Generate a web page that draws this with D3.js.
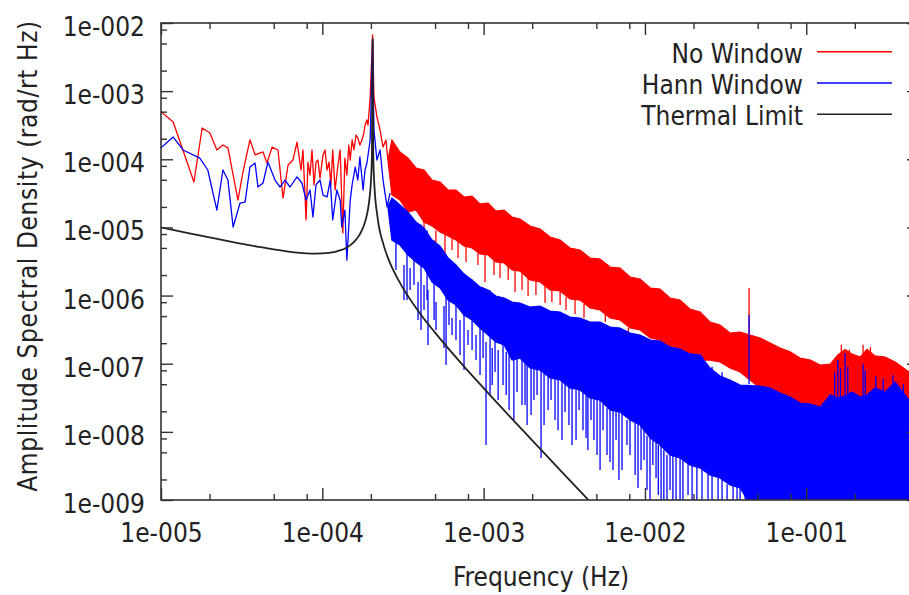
<!DOCTYPE html>
<html><head><meta charset="utf-8">
<script src="https://cdn.jsdelivr.net/npm/d3@7"></script>
<style>
body{margin:0;background:#fff}
svg text{font-family:"DejaVu Sans Condensed","DejaVu Sans",sans-serif;font-stretch:condensed;font-size:26px;fill:#222}
</style></head><body>
<svg id="chart" width="909" height="595"></svg>
<script>
// ---------- axes / labels ----------
const xTickValues = [1e-5, 1e-4, 1e-3, 1e-2, 1e-1];
const xTickLabels = ["1e-005", "1e-004", "1e-003", "1e-002", "1e-001"];
const yTickValues = [1e-9, 1e-8, 1e-7, 1e-6, 1e-5, 1e-4, 1e-3, 1e-2];
const yTickLabels = ["1e-009", "1e-008", "1e-007", "1e-006", "1e-005", "1e-004", "1e-003", "1e-002"];
const minorFactors = [2, 5, 8];
const xTitle = "Frequency (Hz)";
const yTitle = "Amplitude Spectral Density (rad/rt Hz)";
const seriesNames = ["No Window", "Hann Window", "Thermal Limit"];
const seriesColors = ["#ff0000", "#0000ff", "#222222"];

// ---------- No Window (red), low-frequency resolved points ----------
const redLowF = [1.0e-5,1.19e-5,1.6e-5,1.8e-5,2.01e-5,2.22e-5,2.42e-5,2.6e-5,3.0e-5,3.22e-5,3.56e-5,3.83e-5,4.29e-5,4.54e-5,4.88e-5,5.31e-5,5.71e-5,6.13e-5,6.58e-5,6.97e-5,7.38e-5,7.59e-5,7.93e-5,8.15e-5,8.39e-5,8.63e-5,8.89e-5,9.14e-5,9.4e-5,9.68e-5,1.01e-4,1.04e-4,1.07e-4,1.10e-4,1.13e-4,1.16e-4,1.2e-4,1.25e-4,1.29e-4,1.34e-4,1.38e-4,1.42e-4,1.46e-4,1.49e-4,1.53e-4,1.57e-4,1.62e-4,1.66e-4,1.71e-4,1.76e-4,1.81e-4,1.84e-4,1.89e-4,1.92e-4,1.98e-4,2.05e-4,2.09e-4,2.18e-4,2.28e-4,2.38e-4,2.48e-4,2.55e-4];
const redLowV = [5.0e-4,3.52e-4,4.64e-5,2.88e-4,2.43e-4,1.37e-4,1.62e-4,1.47e-4,2.52e-5,6.5e-5,1.92e-4,1.16e-4,1.28e-4,8.8e-5,1.51e-4,1.37e-4,2.7e-5,8.24e-5,9.76e-5,1.79e-4,6.96e-5,1.37e-4,1.29e-5,9.1e-5,5.88e-5,1.37e-4,4.2e-5,9.1e-5,9.76e-5,5.3e-5,1.16e-4,1.37e-4,6.96e-5,9.1e-5,4.2e-5,1.37e-4,3.54e-5,8.24e-5,1.37e-4,8.3e-6,1.04e-4,5.88e-5,1.62e-4,9.76e-5,1.92e-4,1.37e-4,2.27e-4,2.05e-4,1.62e-4,1.92e-4,2.43e-4,3.18e-4,3.77e-4,3.18e-4,8.2e-4,6.7e-3,8.2e-4,4.2e-4,2.69e-4,1.51e-4,1.92e-4,9.76e-5];

// ---------- Hann Window (blue), low-frequency resolved points ----------
const blueLowF = [1.0e-5,1.19e-5,1.37e-5,1.74e-5,1.95e-5,2.22e-5,2.42e-5,2.6e-5,2.8e-5,3.09e-5,3.32e-5,3.56e-5,3.83e-5,3.99e-5,4.29e-5,4.6e-5,5.09e-5,5.47e-5,5.87e-5,6.31e-5,6.97e-5,7.48e-5,7.93e-5,8.39e-5,8.75e-5,9.14e-5,9.68e-5,1.01e-4,1.07e-4,1.12e-4,1.16e-4,1.23e-4,1.29e-4,1.32e-4,1.38e-4,1.42e-4,1.49e-4,1.53e-4,1.6e-4,1.66e-4,1.71e-4,1.79e-4,1.84e-4,1.89e-4,1.98e-4,2.05e-4,2.09e-4,2.18e-4,2.28e-4,2.38e-4,2.52e-4,2.63e-4];
const blueLowV = [1.47e-4,2.12e-4,1.37e-4,1.04e-4,6.96e-5,1.8e-5,6.96e-5,4.96e-5,1.01e-5,2.28e-5,2.35e-5,7.7e-5,8.8e-5,3.92e-5,4.49e-5,9.1e-5,4.96e-5,3.92e-5,4.96e-5,3.92e-5,5.5e-5,4.49e-5,2.52e-5,3.54e-5,1.42e-5,4.2e-5,4.96e-5,2.98e-5,2.8e-5,4.96e-5,1.29e-5,3.54e-5,2.52e-5,1.01e-5,1.8e-5,3.3e-6,2.52e-5,4.2e-5,7.7e-5,4.96e-5,1.08e-4,3.54e-5,6.96e-5,8.8e-5,1.92e-4,5.6e-3,2.69e-4,9.76e-5,1.37e-4,4.96e-5,2.0e-5,3.2e-5];

// ---------- dense high-frequency part: band edges ----------
const bandF = [2.55e-4,2.70e-4,3.03e-4,3.40e-4,3.81e-4,4.27e-4,4.79e-4,5.37e-4,6.02e-4,6.74e-4,7.56e-4,8.47e-4,9.5e-4,1.065e-3,1.19e-3,1.34e-3,1.50e-3,1.68e-3,1.94e-3,2.24e-3,2.58e-3,2.98e-3,3.43e-3,3.96e-3,4.57e-3,5.27e-3,6.08e-3,7.01e-3,8.09e-3,9.33e-3,1.08e-2,1.24e-2,1.43e-2,1.65e-2,1.90e-2,2.20e-2,2.53e-2,2.92e-2,3.37e-2,3.89e-2,5.17e-2,5.97e-2,6.89e-2,7.94e-2,9.16e-2,0.106,0.122,0.141,0.157,0.174,0.192,0.216,0.238,0.267,0.308,0.356,0.434,0.5];
const redHi = [9.76e-5,1.92e-4,1.28e-4,1.04e-4,7.45e-5,6.96e-5,4.96e-5,4.64e-5,3.54e-5,3.54e-5,2.79e-5,2.89e-5,2.21e-5,2.28e-5,1.74e-5,1.80e-5,1.42e-5,1.33e-5,1.05e-5,9.5e-6,7.23e-6,6.53e-6,4.99e-6,4.67e-6,3.56e-6,3.44e-6,2.62e-6,2.54e-6,1.87e-6,1.75e-6,1.29e-6,1.25e-6,9.2e-7,8.6e-7,6.35e-7,5.74e-7,4.09e-7,3.70e-7,2.82e-7,2.92e-7,2.38e-7,2.01e-7,1.70e-7,1.49e-7,1.21e-7,1.13e-7,9.57e-8,9.9e-8,1.34e-7,1.62e-7,1.39e-7,1.25e-7,1.62e-7,1.30e-7,1.25e-7,1.06e-7,7.55e-8,8.07e-8];
const redLo = [9.76e-5,2.99e-5,2.52e-5,1.68e-5,1.80e-5,1.20e-5,1.05e-5,8.57e-6,7.48e-6,6.53e-6,5.33e-6,4.99e-6,4.07e-6,3.94e-6,3.11e-6,3.01e-6,2.37e-6,2.29e-6,1.69e-6,1.58e-6,1.21e-6,1.17e-6,8.9e-7,8.6e-7,6.56e-7,6.14e-7,4.69e-7,4.38e-7,3.34e-7,3.13e-7,2.38e-7,2.23e-7,1.70e-7,1.59e-7,1.30e-7,1.13e-7,1.13e-7,1.06e-7,8.65e-8,7.55e-8,4.40e-8,3.84e-8,3.36e-8,2.93e-8,2.56e-8,2.48e-8,2.24e-8,2.56e-8,3.14e-8,2.93e-8,3.36e-8,2.93e-8,3.14e-8,2.74e-8,2.93e-8,2.74e-8,2.93e-8,2.93e-8];
const blueHi = [2.0e-5,2.70e-5,2.13e-5,1.68e-5,1.20e-5,9.8e-6,6.53e-6,5.33e-6,3.56e-6,2.81e-6,2.07e-6,1.69e-6,1.34e-6,1.21e-6,9.86e-7,9.2e-7,8.05e-7,7.78e-7,6.79e-7,7.03e-7,5.93e-7,5.74e-7,4.84e-7,4.69e-7,4.09e-7,4.09e-7,3.46e-7,3.34e-7,2.82e-7,2.64e-7,2.23e-7,2.15e-7,1.76e-7,1.64e-7,1.39e-7,1.34e-7,8.65e-8,6.59e-8,5.77e-8,4.86e-8,4.71e-8,4.40e-8,3.72e-8,3.24e-8,2.65e-8,2.56e-8,2.31e-8,3.47e-8,3.14e-8,3.36e-8,3.84e-8,3.24e-8,3.47e-8,4.40e-8,3.84e-8,5.38e-8,2.93e-8,3.14e-8];
const blueLo = [2.0e-5,6.53e-6,5.52e-6,3.94e-6,3.11e-6,2.54e-6,1.58e-6,1.29e-6,8.6e-7,7.27e-7,5.19e-7,4.38e-7,3.34e-7,2.64e-7,2.08e-7,1.88e-7,1.13e-7,1.21e-7,8.65e-8,8.07e-8,6.17e-8,5.77e-8,4.40e-8,4.11e-8,3.14e-8,2.93e-8,2.09e-8,1.95e-8,1.49e-8,1.26e-8,8.1e-9,6.4e-9,4.57e-9,4.13e-9,3.26e-9,2.94e-9,2.33e-9,2.10e-9,1.66e-9,1.50e-9,5e-10,5e-10,5e-10,5e-10,5e-10,5e-10,5e-10,5e-10,5e-10,5e-10,5e-10,5e-10,5e-10,5e-10,5e-10,5e-10,5e-10,5e-10];

// ---------- isolated spikes: [frequency, upper value, lower value] ----------
const redSpikes = [[4.27e-4,1.68e-5,6.53e-6],[5.06e-4,9e-6,5.71e-6],[5.76e-4,8.57e-6,3.11e-6],[6.37e-4,7.0e-6,4.67e-6],[6.94e-4,6.53e-6,3.56e-6],[7.78e-4,5.33e-6,3.11e-6],[9.22e-4,4.2e-6,2.81e-6],[1.02e-3,4.07e-6,1.58e-6],[1.16e-3,3.3e-6,2.0e-6],[1.264e-3,3.11e-6,1.81e-6],[1.42e-3,2.7e-6,1.69e-6],[1.566e-3,2.54e-6,1.13e-6],[1.73e-3,2.2e-6,1.21e-6],[1.886e-3,2.0e-6,9.86e-7],[2.11e-3,1.63e-6,1.02e-6],[2.403e-3,1.58e-6,7.78e-7],[2.65e-3,1.21e-6,8.05e-7],[2.98e-3,1.21e-6,7.27e-7],[3.24e-3,9.5e-7,6.14e-7],[3.686e-3,9.2e-7,5.36e-7],[4.19e-3,7.5e-7,4.69e-7],[5.68e-3,6.14e-7,4.09e-7],[7.9e-3,3.34e-7,2.55e-7],[4.42e-2,1.29e-6,2.6e-7],[0.165,1.9e-7,8e-8],[0.185,1.6e-7,8e-8],[0.225,1.9e-7,8e-8],[0.25,1.75e-7,8e-8]];
const blueSpikes = [[2.86e-4,2.4e-5,2.37e-6],[3.21e-4,2.81e-6,8.6e-7],[3.35e-4,1.7e-5,8.6e-7],[3.50e-4,2.54e-6,1.21e-6],[3.70e-4,1.3e-5,1.43e-6],[3.92e-4,1.58e-6,4.38e-7],[4.09e-4,1.1e-5,3.13e-7],[4.27e-4,1.43e-6,6.14e-7],[4.46e-4,9e-6,8.6e-7],[4.52e-4,1.21e-6,1.88e-7],[4.93e-4,6.5e-6,4.38e-7],[5.07e-4,8.05e-7,3.13e-7],[5.68e-4,7.03e-7,1.70e-7],[5.85e-4,4e-6,9.57e-8],[6.10e-4,3.5e-6,3.70e-7],[6.37e-4,4.69e-7,2.64e-7],[6.74e-4,2.8e-6,2.23e-7],[7.14e-4,4.38e-7,1.34e-7],[7.56e-4,2.1e-6,8.07e-8],[8.0e-4,3.13e-7,1.88e-7],[8.48e-4,1.7e-6,1.59e-7],[8.97e-4,2.64e-7,1.13e-7],[9.50e-4,1.34e-6,6.82e-8],[9.92e-4,1.3e-6,1.21e-7],[1.035e-3,2.08e-7,6.4e-9],[1.096e-3,1.2e-6,3.47e-8],[1.13e-3,1.7e-7,4.86e-8],[1.177e-3,1e-6,7.55e-8],[1.23e-3,1.59e-7,2.93e-8],[1.319e-3,9.2e-7,4.86e-8],[1.38e-3,1.49e-7,3.47e-8],[1.438e-3,8.5e-7,2.09e-8],[1.54e-3,1.13e-7,1.49e-8],[1.611e-3,7.8e-7,3.84e-8],[1.73e-3,1.13e-7,2.48e-8],[1.806e-3,7.3e-7,2.48e-8],[1.86e-3,9.57e-8,1.26e-8],[1.968e-3,6.8e-7,1.77e-8],[2.05e-3,8.65e-8,2.93e-8],[2.144e-3,7e-7,3.47e-8],[2.27e-3,8.07e-8,4.13e-9],[2.369e-3,6.4e-7,1.26e-8],[2.51e-3,6.82e-8,2.09e-8],[2.618e-3,5.9e-7,2.93e-8],[2.77e-3,6.17e-8,1.49e-8],[2.893e-3,5.7e-7,1.06e-8],[3.06e-3,5.77e-8,7.6e-9],[3.197e-3,5e-7,1.95e-8],[3.38e-3,4.71e-8,1.26e-8],[3.533e-3,4.8e-7,6.4e-9],[3.74e-3,4.11e-8,7.6e-9],[3.904e-3,4.7e-7,2.09e-8],[4.13e-3,3.84e-8,1.06e-8],[4.315e-3,4.3e-7,8.1e-9],[4.43e-3,3.36e-8,5.42e-9],[4.633e-3,4.1e-7,1.49e-8],[4.83e-3,3.14e-8,7.6e-9],[5.048e-3,4.1e-7,4.57e-9],[5.27e-3,2.93e-8,2.75e-9],[5.498e-3,3.9e-7,1.06e-8],[5.82e-3,2.24e-8,4.57e-9],[6.076e-3,3.5e-7,3.6e-9],[6.34e-3,2.09e-8,2.75e-9],[6.62e-3,3.4e-7,7.6e-9],[6.9e-3,1.95e-8,1.96e-9],[7.21e-3,3.2e-7,2.75e-9],[7.74e-3,1.49e-8,6.4e-9],[8.08e-3,2.8e-7,4.57e-9],[8.69e-3,1.39e-8,2.33e-9],[9.06e-3,2.65e-7,1.50e-9],[9.46e-3,1.26e-8,2.75e-9],[9.87e-3,2.5e-7,3.86e-9],[1.03e-2,8.7e-9,1.40e-9],[1.075e-2,2.2e-7,5e-10],[1.12e-2,7.6e-9,3.26e-9],[1.172e-2,2.2e-7,2.10e-9],[1.21e-2,6.4e-9,1.18e-9],[1.259e-2,2.1e-7,5e-10],[1.31e-2,5.42e-9,5e-10],[1.37e-2,4.57e-9,5e-10],[1.431e-2,1.8e-7,1.40e-9],[1.49e-2,4.57e-9,5e-10],[1.559e-2,1.7e-7,5e-10],[1.651e-2,1.6e-7,5e-10],[1.72e-2,4.13e-9,5e-10],[1.85e-2,1.4e-7,1.18e-9],[1.96e-2,3.26e-9,5e-10],[2.10e-2,3.1e-9,5e-10],[2.259e-2,1.3e-7,5e-10],[2.46e-2,2.4e-9,5e-10],[2.606e-2,9e-8,5e-10],[2.84e-2,2.1e-9,5e-10],[3.006e-2,7.5e-8,5e-10],[3.23e-2,1.7e-9,5e-10],[3.52e-2,1.6e-9,5e-10],[3.724e-2,5e-8,5e-10],[3.89e-2,1.5e-9,5e-10],[4.18e-2,1.4e-9,5e-10],[4.42e-2,5.2e-7,5e-8],[4.61e-2,1.2e-9,5e-10],[4.886e-2,4.7e-8,5e-10],[0.150,7.5e-8,2e-8],[0.157,1.13e-7,2e-8],[0.163,8.5e-8,2e-8],[0.174,1.44e-7,2e-8],[0.181,9e-8,2e-8],[0.225,1.0e-7,2e-8],[0.232,8e-8,2e-8],[0.27,6.5e-8,2e-8],[0.30,6e-8,2e-8],[0.345,6.8e-8,2e-8],[0.40,5e-8,2e-8]];

// ---------- Thermal limit ----------
const thermalF = [1e-5,1.5e-5,2e-5,3e-5,4e-5,5e-5,6e-5,7e-5,8e-5,9e-5,1e-4,1.1e-4,1.2e-4,1.3e-4,1.4e-4,1.5e-4,1.6e-4,1.7e-4,1.8e-4,1.9e-4,1.95e-4,2.0e-4,2.03e-4,2.05e-4,2.07e-4,2.1e-4,2.2e-4,2.4e-4,2.6e-4,3e-4,4e-4,5e-4,7e-4,1e-3,1.5e-3,2e-3,3e-3,4e-3,5e-3];
const thermalV = [1.0e-5,8.2e-6,7.14e-6,5.9e-6,5.2e-6,4.75e-6,4.46e-6,4.28e-6,4.17e-6,4.13e-6,4.15e-6,4.23e-6,4.39e-6,4.63e-6,5.0e-6,5.55e-6,6.4e-6,7.77e-6,1.03e-5,1.62e-5,2.38e-5,4.65e-5,1.14e-4,5.8e-3,1.12e-4,4.4e-5,1.4e-5,5.5e-6,3.2e-6,1.6e-6,5.6e-7,2.86e-7,1.12e-7,4.38e-8,1.55e-8,7.5e-9,2.7e-9,1.32e-9,7.5e-10];

// ---------- drawing ----------
const L = 161, R = 919, T = 23, B = 500;
const svg = d3.select("#chart");
svg.append("rect").attr("width", 909).attr("height", 595).attr("fill", "#fff");

const x = d3.scaleLog().domain([1e-5, 0.5]).range([L, R]);
const y = d3.scaleLog().domain([1e-9, 1e-2]).range([B, T]);

svg.append("clipPath").attr("id", "clip").append("rect")
  .attr("x", L).attr("y", T).attr("width", R - L).attr("height", B - T);
const plot = svg.append("g").attr("clip-path", "url(#clip)");

const zip = (a, b) => a.map((d, i) => [d, b[i]]);
const line = d3.line().x(d => x(d[0])).y(d => y(d[1]));
const area = d3.area().x(d => x(d.f)).y0(d => y(d.lo)).y1(d => y(d.hi));

function drawSeries(lowF, lowV, hi, lo, spikes, color) {
  const band = bandF.map((f, i) => ({f, hi: hi[i], lo: lo[i]}));
  plot.append("path").datum(band).attr("d", area)
    .attr("fill", color).attr("stroke", color).attr("stroke-width", 1.2).attr("stroke-linejoin", "miter");
  plot.append("g").selectAll("line").data(spikes).join("line")
    .attr("x1", d => x(d[0])).attr("x2", d => x(d[0]))
    .attr("y1", d => y(d[1])).attr("y2", d => y(d[2]))
    .attr("stroke", color).attr("stroke-width", 1.3);
  plot.append("path").datum(zip(lowF, lowV)).attr("d", line)
    .attr("fill", "none").attr("stroke", color).attr("stroke-width", 1.3).attr("stroke-linejoin", "round");
}
drawSeries(redLowF, redLowV, redHi, redLo, redSpikes, seriesColors[0]);
drawSeries(blueLowF, blueLowV, blueHi, blueLo, blueSpikes, seriesColors[1]);

plot.append("path").datum(zip(thermalF, thermalV))
  .attr("d", d3.line().x(d => x(d[0])).y(d => y(d[1])).curve(d3.curveMonotoneX))
  .attr("fill", "none").attr("stroke", seriesColors[2]).attr("stroke-width", 1.8);

// minor tick positions (2,5,8 x decade)
const xMinor = [], yMinor = [];
xTickValues.forEach(d => minorFactors.forEach(m => { if (d * m <= 0.5) xMinor.push(d * m); }));
yTickValues.slice(0, -1).forEach(d => minorFactors.forEach(m => yMinor.push(d * m)));

function styleAxis(g) {
  g.attr("font-size", null).attr("font-family", null).attr("color", "#333");
  g.select(".domain").remove();
  g.selectAll(".tick line").attr("stroke-width", 1.4);
}
// bottom
svg.append("g").attr("transform", `translate(0,${B})`)
  .call(d3.axisBottom(x).tickValues(xTickValues).tickFormat((d, i) => xTickLabels[i]).tickSizeInner(-12).tickSizeOuter(0).tickPadding(23.5))
  .call(styleAxis);
svg.append("g").attr("transform", `translate(0,${B})`)
  .call(d3.axisBottom(x).tickValues(xMinor).tickFormat("").tickSizeInner(-6).tickSizeOuter(0)).call(styleAxis);
// top
svg.append("g").attr("transform", `translate(0,${T})`)
  .call(d3.axisTop(x).tickValues(xTickValues).tickFormat("").tickSizeInner(-12).tickSizeOuter(0)).call(styleAxis);
svg.append("g").attr("transform", `translate(0,${T})`)
  .call(d3.axisTop(x).tickValues(xMinor).tickFormat("").tickSizeInner(-6).tickSizeOuter(0)).call(styleAxis);
// left
const gy = svg.append("g").attr("transform", `translate(${L},0)`)
  .call(d3.axisLeft(y).tickValues(yTickValues).tickFormat((d, i) => yTickLabels[i]).tickSizeInner(-12).tickSizeOuter(0).tickPadding(16))
  .call(styleAxis);
gy.selectAll("text").attr("dy", "0.48em");
svg.append("g").attr("transform", `translate(${L},0)`)
  .call(d3.axisLeft(y).tickValues(yMinor).tickFormat("").tickSizeInner(-6).tickSizeOuter(0)).call(styleAxis);
// right
svg.append("g").attr("transform", `translate(${R},0)`)
  .call(d3.axisRight(y).tickValues(yTickValues).tickFormat("").tickSizeInner(-12).tickSizeOuter(0)).call(styleAxis);
svg.append("g").attr("transform", `translate(${R},0)`)
  .call(d3.axisRight(y).tickValues(yMinor).tickFormat("").tickSizeInner(-6).tickSizeOuter(0)).call(styleAxis);

// frame
svg.append("rect").attr("x", L).attr("y", T).attr("width", R - L).attr("height", B - T)
  .attr("fill", "none").attr("stroke", "#333").attr("stroke-width", 1.6);

// titles
svg.append("text").attr("x", 541).attr("y", 586).attr("text-anchor", "middle").text(xTitle);
svg.append("text").attr("transform", "translate(37,256) rotate(-90)").attr("text-anchor", "middle")
  .attr("letter-spacing", "0.6px").text(yTitle);

// legend
const legend = svg.append("g");
seriesNames.forEach((name, i) => {
  const yy = 51.7 + i * 31.3;
  legend.append("text").attr("x", 803).attr("y", yy + 10.8).attr("text-anchor", "end").text(name);
  legend.append("line").attr("x1", 817).attr("x2", 892).attr("y1", yy).attr("y2", yy)
    .attr("stroke", seriesColors[i]).attr("stroke-width", 1.5);
});
</script>
</body></html>
